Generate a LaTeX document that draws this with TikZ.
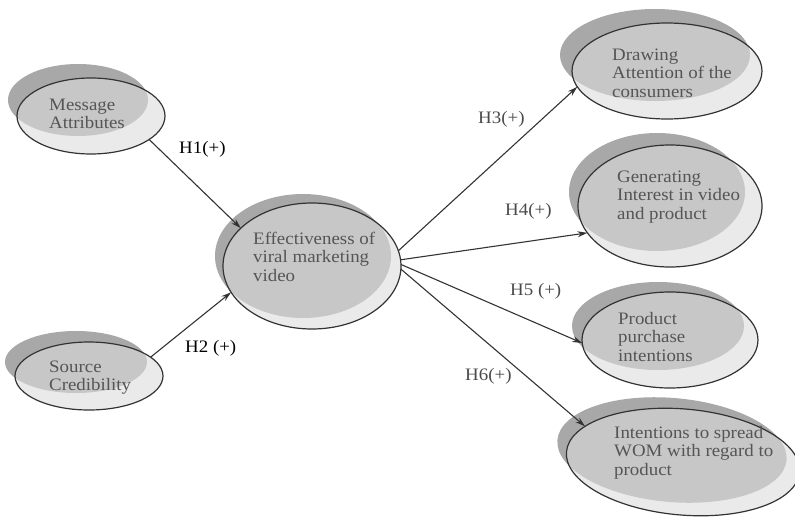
\documentclass[tikz,border=0pt]{standalone}
\usepackage{fontspec}
\setmainfont{Liberation Serif}[FakeStretch=1.08]
\usetikzlibrary{shapes.geometric,arrows.meta}
\definecolor{shadowgray}{HTML}{A8A8A8}
\definecolor{frontgray}{HTML}{DCDCDC}
\definecolor{linegray}{HTML}{333333}
\definecolor{txtgray}{HTML}{555555}
\definecolor{lblgray}{HTML}{4A4A4A}
\tikzset{
 shadowell/.style={ellipse, fill=shadowgray, inner sep=0pt, outer sep=0pt},
 frontell/.style={ellipse, fill=frontgray, fill opacity=0.6, draw=linegray, line width=1.2pt, inner sep=0pt, outer sep=0pt},
 nodetext/.style={anchor=north west, inner sep=0pt, align=left, text=txtgray, font=\fontsize{17.5}{18.7}\selectfont},
 hlabel/.style={anchor=base west, inner sep=0pt, text=lblgray, font=\fontsize{17.5}{19}\selectfont},
 hlabeldark/.style={hlabel, text=black},
 conn/.style={draw=linegray, line width=1.1pt, -{Stealth[length=10pt,width=6pt]}},
}
\begin{document}
\begin{tikzpicture}[x=1pt,y=-1pt]
\useasboundingbox (0,0) rectangle (795,517);
% shadows
\node[shadowell, minimum width=140pt, minimum height=72pt] (msgS) at (78,100) {};
\node[shadowell, minimum width=142pt, minimum height=62pt] (srcS) at (76,362) {};
\node[shadowell, minimum width=176pt, minimum height=124pt] (effS) at (303,256) {};
\node[shadowell, minimum width=190pt, minimum height=92pt] (attS) at (655,55) {};
\node[shadowell, minimum width=176pt, minimum height=118pt] (genS) at (657,192) {};
\node[shadowell, minimum width=172pt, minimum height=88pt] (purS) at (658,326) {};
\node[shadowell, minimum width=230pt, minimum height=104pt, rotate=-5] (womS) at (672,450) {};
% front ellipses
\node[frontell, minimum width=148pt, minimum height=76pt] (msg) at (91,116) {};
\node[frontell, minimum width=148pt, minimum height=68pt] (src) at (89,376) {};
\node[frontell, minimum width=178pt, minimum height=126pt] (eff) at (312,266) {};
\node[frontell, minimum width=190pt, minimum height=96pt] (att) at (667,71) {};
\node[frontell, minimum width=184pt, minimum height=122pt] (gen) at (670,206) {};
\node[frontell, minimum width=176pt, minimum height=96pt] (pur) at (670,340) {};
\node[frontell, minimum width=234pt, minimum height=106pt, rotate=-5] (wom) at (683,462) {};
% texts
\node[nodetext] (msgT) at (49,97) {\rule{0pt}{13pt}Message\\Attributes};
\node[nodetext] (srcT) at (49,359) {\rule{0pt}{13pt}Source\\Credibility};
\node[nodetext] (effT) at (253,231) {\rule{0pt}{13pt}Effectiveness of\\viral marketing\\video};
\node[nodetext] (attT) at (612,47) {\rule{0pt}{13pt}Drawing\\Attention of the\\consumers};
\node[nodetext] (genT) at (617,169) {\rule{0pt}{13pt}Generating\\Interest in video\\and product};
\node[nodetext] (purT) at (618,311) {\rule{0pt}{13pt}Product\\purchase\\intentions};
\node[nodetext] (womT) at (614,425) {\rule{0pt}{13pt}Intentions to spread\\WOM with regard to\\product};
% connectors
\draw[conn] (msg.-22) -- (eff.152);
\draw[conn] (src.17) -- (eff.198);
\draw[conn] (eff.10) -- (att.190);
\draw[conn] (eff.4) -- (gen.198);
\draw[conn] (eff.1) -- (pur.182);
\draw[conn] (eff.-2) -- (wom.165);
% labels
\node[hlabeldark] (h1) at (179,153) {H1(+)};
\node[hlabeldark] (h2) at (185,352) {H2 (+)};
\node[hlabel] (h3) at (478,123) {H3(+)};
\node[hlabel] (h4) at (505,215) {H4(+)};
\node[hlabel] (h5) at (510,295) {H5 (+)};
\node[hlabel] (h6) at (465,380) {H6(+)};
\end{tikzpicture}
\end{document}
